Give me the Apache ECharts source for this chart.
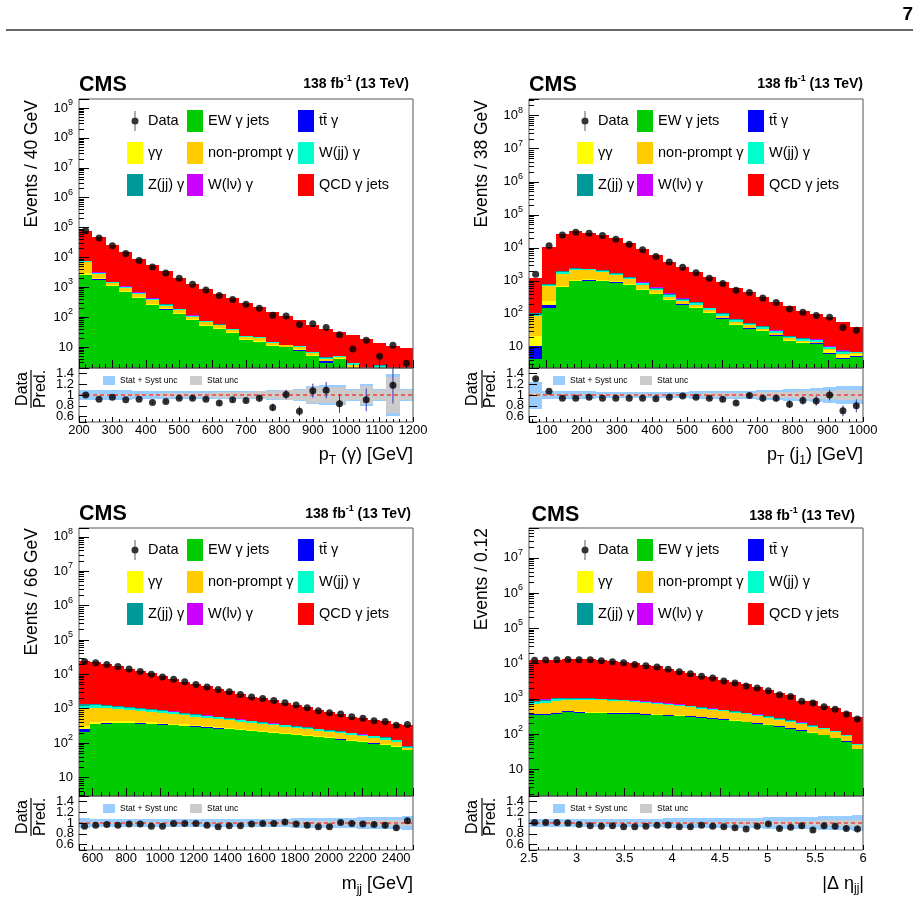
<!DOCTYPE html>
<html>
<head>
<meta charset="utf-8">
<title>CMS EW gamma + jets, control distributions</title>
<script src="https://cdn.jsdelivr.net/npm/echarts@6.0.0/dist/echarts.min.js"></script>
<style>
  html, body { margin: 0; padding: 0; background: #fff; }
  #chart { width: 920px; height: 908px; }
</style>
</head>
<body>
<div id="chart"></div>
<script>
// ---------- data ----------
// stack order, bottom to top
const procNames = ['EW γ jets', 'tt\u0304 γ', 'γγ', 'non-prompt γ', 'W(jj) γ', 'Z(jj) γ', 'W(lν) γ', 'QCD γ jets']
const procColors = ['#00cc00', '#0000ff', '#ffff00', '#ffcc00', '#00ffcc', '#009999', '#cc00ff', '#ff0000']

// pT(gamma): 25 bins, 200 - 1200 GeV
const ptgData = [78000, 44600, 24500, 13600, 7900, 4750, 3000, 2000, 1260, 810, 530, 390, 273, 200, 117, 109, 57, 60, 45, 26, 8.7, 17, 4.9, 11.5, 2.9]
const ptgEW = [2600, 1780, 1070, 680, 430, 250, 178, 126, 78, 51, 40, 29, 17.5, 15, 11, 10, 7.7, 5.1, 2.9, 4.0, 0.6, 0.3, 0.5, 0.3, 0.2]
const ptgTTG = [70, 55, 19, 16, 10, 7, 4, 3, 1.5, 1.1, 0.8, 0.5, 0.26, 0.28, 0.16, 0.08, 0.13, 0.07, 0.4, 0.04, 0.05, 0.01, 0.02, 0.01, 0.01]
const ptgGG = [450, 210, 72, 58, 38, 27, 15, 10, 6, 4, 2.9, 1.8, 1, 1.05, 0.6, 0.3, 0.5, 0.27, 0.2, 0.17, 0.6, 0.03, 0.1, 0.03, 0.03]
const ptgNP = [3800, 710, 240, 195, 125, 90, 48, 35, 18, 13, 9.5, 6, 3.2, 3.5, 2, 1, 1.6, 0.9, 0.6, 0.55, 1.2, 0.1, 0.2, 0.1, 0.1]
const ptgWJJ = [500, 260, 86, 70, 45, 32, 17, 12, 7, 5, 3.4, 2.2, 1.2, 1.26, 0.7, 0.36, 0.6, 0.32, 0.3, 0.2, 0.4, 0.04, 1.6, 0.04, 0.04]
const ptgZJJ = [180, 100, 34, 27, 17, 13, 7, 5, 2.6, 1.9, 1.3, 0.8, 0.45, 0.5, 0.28, 0.14, 0.23, 0.13, 0.1, 0.08, 0.1, 0.01, 0.05, 0.01, 0.01]
const ptgWLV = [100, 85, 29, 24, 15, 11, 6, 4, 2.2, 1.6, 1.1, 0.7, 0.4, 0.42, 0.24, 0.12, 0.2, 0.11, 0.1, 0.06, 0.05, 0.01, 0.03, 0.01, 0.01]
const ptgQCD = [70300, 45300, 23950, 13830, 7920, 5070, 3125, 1935, 1225, 802, 561, 389, 276, 191, 137, 96, 70, 48, 36, 26, 22, 18.5, 11.5, 10.5, 8.6]
const ptgRatio = [1.00, 0.92, 0.96, 0.91, 0.92, 0.86, 0.88, 0.94, 0.94, 0.92, 0.85, 0.91, 0.90, 0.94, 0.77, 1.01, 0.70, 1.08, 1.09, 0.84, null, 0.91, null, 1.18, null]
const ptgRatioErr = [0.01, 0.01, 0.01, 0.01, 0.01, 0.02, 0.02, 0.02, 0.03, 0.03, 0.04, 0.04, 0.05, 0.06, 0.07, 0.09, 0.09, 0.13, 0.15, 0.17, null, 0.21, null, 0.34, null]
const ptgUncTot = [0.1, 0.09, 0.09, 0.09, 0.08, 0.08, 0.08, 0.07, 0.07, 0.07, 0.07, 0.07, 0.08, 0.08, 0.09, 0.1, 0.11, 0.17, 0.18, 0.18, 0.12, 0.2, 0.12, 0.38, 0.12]
const ptgUncStat = [0.01, 0.01, 0.01, 0.02, 0.02, 0.02, 0.03, 0.03, 0.04, 0.04, 0.05, 0.05, 0.06, 0.07, 0.08, 0.09, 0.1, 0.14, 0.15, 0.15, 0.1, 0.17, 0.1, 0.34, 0.1]

// pT(j1): 25 bins, 50 - 1000 GeV
const ptjData = [1580, 11500, 24600, 29600, 27600, 23400, 18200, 12900, 8700, 5500, 3700, 2600, 1750, 1200, 830, 520, 445, 305, 220, 140, 112, 89, 79, 39, 32]
const ptjEW = [4.4, 155, 630, 980, 1020, 1000, 890, 740, 520, 390, 260, 190, 150, 107, 72, 46, 36, 30, 22, 15, 13, 12.6, 6.3, 4.2, 5]
const ptjTTG = [6, 35, 25, 25, 22, 20, 15, 12, 8, 6, 4, 3, 2, 1.5, 1, 0.7, 0.5, 0.4, 0.3, 0.2, 0.2, 0.2, 0.3, 0.4, 0.3]
const ptjGG = [10.5, 50, 60, 80, 80, 70, 60, 45, 30, 20, 14, 10, 7, 5, 3.5, 2.5, 2, 1.5, 1.2, 0.8, 0.7, 0.6, 1.2, 0.9, 0.8]
const ptjNP = [64, 450, 945, 1005, 968, 810, 515, 303, 182, 104, 52, 37, 31, 21.5, 12.5, 7.8, 7.5, 4.1, 3.5, 2, 1.1, 1.1, 0.8, 0.5, 0.4]
const ptjWJJ = [10, 80, 170, 210, 145, 110, 150, 128, 100, 64, 50, 32, 23, 12, 10, 9, 4.6, 4, 2.9, 2.3, 2.3, 1.5, 1.2, 1.2, 0.3]
const ptjZJJ = [9, 45, 90, 110, 75, 58, 80, 67, 50, 33, 25, 16, 12, 6, 5.5, 4.5, 2.4, 2.1, 1.5, 1.2, 1.2, 0.7, 0.4, 0.4, 0.1]
const ptjWLV = [4, 15, 30, 40, 30, 22, 30, 25, 20, 13, 10, 7, 5, 2, 2.5, 1.5, 1, 0.9, 0.6, 0.5, 0.5, 0.3, 0.3, 0.4, 0.1]
const ptjQCD = [1107, 9920, 24250, 29050, 26410, 22810, 17660, 12380, 8340, 5270, 3435, 2355, 1590, 1125, 793, 538, 396, 282, 202, 147, 105, 83, 68.5, 47, 33]
const ptjRatio = [1.30, 1.07, 0.94, 0.94, 0.96, 0.94, 0.94, 0.94, 0.94, 0.93, 0.96, 0.98, 0.96, 0.94, 0.92, 0.85, 0.99, 0.94, 0.94, 0.83, 0.90, 0.89, 1.00, 0.71, 0.80]
const ptjRatioErr = [0.03, 0.01, 0.01, 0.01, 0.01, 0.01, 0.01, 0.01, 0.01, 0.02, 0.02, 0.02, 0.03, 0.03, 0.04, 0.04, 0.05, 0.06, 0.06, 0.07, 0.08, 0.09, 0.1, 0.1, 0.12]
const ptjUncTot = [0.25, 0.08, 0.07, 0.07, 0.07, 0.06, 0.06, 0.06, 0.06, 0.06, 0.06, 0.06, 0.07, 0.07, 0.07, 0.08, 0.08, 0.09, 0.1, 0.11, 0.12, 0.13, 0.14, 0.16, 0.17]
const ptjUncStat = [0.04, 0.01, 0.01, 0.01, 0.01, 0.01, 0.01, 0.01, 0.01, 0.015, 0.02, 0.02, 0.025, 0.03, 0.035, 0.04, 0.045, 0.05, 0.055, 0.06, 0.07, 0.075, 0.08, 0.09, 0.1]

// m_jj: 30 bins, 520 - 2500 GeV
const mjjData = [23500, 21700, 19300, 17000, 14200, 12000, 10000, 8400, 7200, 6100, 5100, 4300, 3600, 3100, 2600, 2200, 1980, 1730, 1500, 1290, 1070, 880, 770, 700, 580, 525, 445, 425, 330, 350]
const mjjEW = [212, 354, 370, 378, 378, 370, 354, 346, 331, 316, 303, 283, 265, 253, 237, 221, 212, 198, 185, 173, 158, 148, 139, 127, 116, 106, 97, 87, 77, 62]
const mjjTTG = [50, 12, 12, 11, 11, 10, 10, 9, 9, 8, 8, 7, 7, 6, 6, 5, 5, 5, 4, 4, 4, 3, 3, 3, 3, 2, 2, 2, 2, 1.5]
const mjjGG = [60, 55, 52, 48, 43, 39, 36, 32, 28, 25, 22, 20, 18, 16, 14, 13, 11, 10, 9, 8, 7, 6, 5, 5, 4, 4, 3.5, 3, 2.5, 1]
const mjjNP = [688, 659, 623, 573, 514, 466, 428, 387, 340, 298, 259, 243, 216, 188, 166, 157, 134, 118, 105, 92, 84, 75, 65, 59, 54, 46, 42.5, 35, 29.5, 9.5]
const mjjWJJ = [225, 182, 159, 136, 126, 117, 96, 90, 82, 76, 70, 56, 52, 47, 43, 34, 31, 28, 26, 23, 22, 20, 18, 16, 15, 14, 13, 13, 10, 4]
const mjjZJJ = [105, 85, 74, 63, 59, 55, 45, 42, 38, 36, 32, 26, 24, 22, 20, 16, 15, 13, 12, 11, 10, 9, 8, 8, 7, 6, 6, 6, 4.5, 2]
const mjjWLV = [44, 37, 32, 27, 25, 23, 19, 18, 17, 15, 14, 12, 10, 9, 9, 7, 6, 6, 5, 5, 5, 4, 4, 3, 3, 3, 2, 2, 1.5, 1]
const mjjQCD = [23616, 21216, 18578, 16464, 13344, 11170, 9652, 8016, 6425, 5386, 4442, 3833, 3278, 2719, 2245, 1787, 1586, 1372, 1124, 1004, 825, 681, 586, 472, 384, 355, 293, 295, 236, 256]
const mjjRatio = [0.94, 0.96, 0.97, 0.96, 0.98, 0.98, 0.94, 0.94, 0.99, 0.99, 0.99, 0.96, 0.93, 0.95, 0.95, 0.98, 0.99, 0.99, 1.02, 0.98, 0.96, 0.93, 0.93, 1.01, 0.99, 0.98, 0.97, 0.96, 0.91, 1.04]
const mjjRatioErr = [0.01, 0.01, 0.01, 0.01, 0.01, 0.01, 0.01, 0.01, 0.01, 0.01, 0.01, 0.02, 0.02, 0.02, 0.02, 0.02, 0.02, 0.02, 0.03, 0.03, 0.03, 0.03, 0.03, 0.04, 0.04, 0.04, 0.04, 0.05, 0.05, 0.05]
const mjjUncTot = [0.085, 0.08, 0.08, 0.075, 0.075, 0.075, 0.07, 0.07, 0.07, 0.07, 0.07, 0.07, 0.07, 0.07, 0.075, 0.075, 0.08, 0.08, 0.08, 0.085, 0.09, 0.09, 0.095, 0.1, 0.1, 0.105, 0.11, 0.11, 0.12, 0.13]
const mjjUncStat = [0.01, 0.01, 0.01, 0.01, 0.01, 0.01, 0.01, 0.01, 0.01, 0.012, 0.014, 0.016, 0.018, 0.02, 0.022, 0.024, 0.026, 0.028, 0.03, 0.032, 0.034, 0.036, 0.038, 0.04, 0.042, 0.045, 0.048, 0.05, 0.055, 0.06]

// |Delta eta_jj|: 30 bins, 2.5 - 6
const detaData = [12300, 12500, 12800, 13100, 12800, 12800, 12000, 11200, 10500, 9450, 8660, 7940, 6820, 5850, 5140, 4320, 3870, 3180, 2790, 2300, 2020, 1690, 1300, 1150, 845, 757, 596, 500, 369, 266]
const detaEW = [346, 346, 369, 421, 403, 386, 386, 378, 378, 369, 353, 346, 331, 324, 310, 290, 272, 255, 234, 214, 196, 180, 161, 142, 124, 107, 92, 75, 61, 37]
const detaTTG = [12, 13, 15, 15, 15, 16, 15, 15, 14, 13, 12, 11, 10, 9, 8, 7, 6, 6, 5, 4, 4, 3, 3, 2, 2, 2, 1, 1, 1, 0.4]
const detaGG = [15, 17, 20, 20, 21, 21, 21, 20, 19, 18, 16, 15, 13, 12, 10, 9, 8, 7, 7, 6, 5, 4, 4, 3, 3, 2, 2, 1.5, 1, 0.5]
const detaNP = [337, 397, 477, 464, 481, 497, 479, 468, 433, 408, 376, 338, 310, 277, 242, 216, 194, 172, 157, 137, 119, 103, 87, 77, 63, 50, 41, 33.5, 25, 11.1]
const detaWJJ = [103, 113, 101, 91, 91, 78, 62, 61, 58, 56, 52, 48, 46, 43, 40, 37, 33, 30, 28, 25, 22, 20, 17, 15, 13, 11, 9, 8, 3.6, 2.4]
const detaZJJ = [48, 53, 47, 43, 43, 36, 29, 28, 27, 26, 24, 22, 22, 20, 18, 17, 15, 14, 13, 12, 10, 10, 8, 7, 6, 5, 4, 3.5, 1.7, 1.1]
const detaWLV = [20, 23, 21, 18, 18, 16, 13, 12, 12, 11, 11, 10, 9, 9, 8, 7, 7, 6, 5, 5, 5, 4, 4, 3, 3, 3, 2, 1.5, 0.7, 0.5]
const detaQCD = [11299, 11418, 11620, 12028, 12128, 12420, 11765, 10808, 10349, 9259, 8366, 7480, 6359, 5596, 4894, 3917, 3585, 2930, 2621, 2177, 1789, 1396, 1156, 1001, 676, 690, 476, 408, 316, 246]
const detaRatio = [1.01, 1.01, 1.01, 1.00, 0.97, 0.95, 0.94, 0.95, 0.93, 0.93, 0.94, 0.96, 0.96, 0.93, 0.93, 0.96, 0.94, 0.93, 0.91, 0.89, 0.94, 0.98, 0.90, 0.92, 0.95, 0.87, 0.95, 0.94, 0.90, 0.89]
const detaRatioErr = [0.01, 0.01, 0.01, 0.01, 0.01, 0.01, 0.01, 0.01, 0.01, 0.01, 0.01, 0.01, 0.01, 0.015, 0.015, 0.015, 0.02, 0.02, 0.02, 0.02, 0.025, 0.025, 0.03, 0.03, 0.035, 0.035, 0.04, 0.045, 0.05, 0.06]
const detaUncTot = [0.08, 0.08, 0.08, 0.08, 0.08, 0.08, 0.08, 0.08, 0.08, 0.08, 0.08, 0.08, 0.085, 0.085, 0.09, 0.09, 0.09, 0.095, 0.095, 0.1, 0.1, 0.105, 0.11, 0.11, 0.115, 0.12, 0.125, 0.13, 0.135, 0.14]
const detaUncStat = [0.01, 0.01, 0.01, 0.01, 0.01, 0.01, 0.01, 0.01, 0.01, 0.01, 0.012, 0.014, 0.016, 0.018, 0.02, 0.022, 0.024, 0.026, 0.028, 0.03, 0.032, 0.034, 0.036, 0.038, 0.04, 0.045, 0.05, 0.052, 0.055, 0.06]

const panels = [
  { xMin: 200, xMax: 1200, interval: 100, labelStep: 100, minor: 5, yMin: 2, yMax: 2e9,
    data: ptgData, procs: [ptgEW, ptgTTG, ptgGG, ptgNP, ptgWJJ, ptgZJJ, ptgWLV, ptgQCD],
    ratio: ptgRatio, ratioErr: ptgRatioErr, uncTot: ptgUncTot, uncStat: ptgUncStat,
    yTitle: 'Events / 40 GeV', xTitle: 'p{s|T} (γ) [GeV]' },
  { xMin: 50, xMax: 1000, interval: null, labelStep: 100, minor: 5, yMin: 2.3, yMax: 3.2e8,
    data: ptjData, procs: [ptjEW, ptjTTG, ptjGG, ptjNP, ptjWJJ, ptjZJJ, ptjWLV, ptjQCD],
    ratio: ptjRatio, ratioErr: ptjRatioErr, uncTot: ptjUncTot, uncStat: ptjUncStat,
    yTitle: 'Events / 38 GeV', xTitle: 'p{s|T} (j{s|1}) [GeV]' },
  { xMin: 520, xMax: 2500, interval: null, labelStep: 200, minor: 4, yMin: 2.9, yMax: 1.8e8,
    data: mjjData, procs: [mjjEW, mjjTTG, mjjGG, mjjNP, mjjWJJ, mjjZJJ, mjjWLV, mjjQCD],
    ratio: mjjRatio, ratioErr: mjjRatioErr, uncTot: mjjUncTot, uncStat: mjjUncStat,
    yTitle: 'Events / 66 GeV', xTitle: 'm{s|jj} [GeV]' },
  { xMin: 2.5, xMax: 6, interval: 0.5, labelStep: 0.5, minor: 5, yMin: 1.74, yMax: 7e7,
    data: detaData, procs: [detaEW, detaTTG, detaGG, detaNP, detaWJJ, detaZJJ, detaWLV, detaQCD],
    ratio: detaRatio, ratioErr: detaRatioErr, uncTot: detaUncTot, uncStat: detaUncStat,
    yTitle: 'Events / 0.12', xTitle: '|Δ η{s|jj}|' }
]

// ---------- layout (pixels) ----------
const layout = [
  { left: 79, top: 99, h: 269, rh: 54, cms: [79, 85], lumi: [409, 84.5], yt: [32, 100], xt: [413, 455.5], frac: [23, 41, 31, 389], leg: [127, 187, 298, 110], rleg: [103, 190, 376] },
  { left: 529, top: 99, h: 269, rh: 54, cms: [529, 85], lumi: [863, 84.5], yt: [482.5, 100], xt: [863, 455.5], frac: [473, 490.5, 482, 389], leg: [577, 637, 748, 110], rleg: [553, 640, 376] },
  { left: 79, top: 528, h: 268, rh: 54, cms: [79, 514.5], lumi: [411, 514.5], yt: [32, 528], xt: [413, 884.5], frac: [23, 41, 31, 817], leg: [127, 187, 298, 539], rleg: [103, 190, 804] },
  { left: 529, top: 528, h: 268, rh: 54, cms: [531.5, 515.5], lumi: [855, 516], yt: [482.5, 528], xt: [864, 884], frac: [473, 490.5, 482, 817], leg: [577, 637, 748, 539], rleg: [553, 640, 804] }
]
const WIDTH = 334
const FONT = '"Liberation Sans", Arial, Helvetica, sans-serif'
const legendCols = [
  ['Data', 'γγ', 'Z(jj) γ'],
  ['EW γ jets', 'non-prompt γ', 'W(lν) γ'],
  ['tt\u0304 γ', 'W(jj) γ', 'QCD γ jets'],
]
// dot with a thin error bar, in a 16x22 box
const dataIcon = 'path://M0,0M16,22M7.6,1L8.4,1L8.4,21L7.6,21ZM11.5,11A3.5,3.5,0,1,1,4.5,11A3.5,3.5,0,1,1,11.5,11Z'

function renderBlock(params, api) {
  const a = api.coord([api.value(0), api.value(3)])
  const b = api.coord([api.value(1), api.value(2)])
  const x0 = Math.round(a[0]), x1 = Math.round(b[0])
  const y0 = Math.round(a[1]), y1 = Math.round(b[1])
  return {
    type: 'rect',
    shape: { x: x0, y: y0, width: x1 - x0, height: y1 - y0 },
    style: { fill: api.visual('color') },
  }
}

function renderErr(params, api) {
  const a = api.coord([api.value(0), api.value(1)])
  const b = api.coord([api.value(0), api.value(2)])
  return {
    type: 'line',
    shape: { x1: a[0], y1: a[1], x2: b[0], y2: b[1] },
    style: { stroke: '#3535b5', lineWidth: 1 },
  }
}

function logLabel(v) {
  const n = Math.log10(v)
  const r = Math.round(n)
  if (Math.abs(n - r) > 1e-6 || r < 1) return ''
  if (r === 1) return '10'
  return '10{sup|' + r + '}'
}

function ratioLabel(v) {
  const k = Math.round(v * 10) / 10
  const ok = [0.6, 0.8, 1, 1.2, 1.4].some(t => Math.abs(t - v) < 1e-6)
  return ok ? String(k) : ''
}

const grids = [], xAxes = [], yAxes = [], series = [], legends = [], graphics = []
const tickColor = { color: '#000' }
const labelFont = { fontSize: 13, color: '#000', fontFamily: FONT }

panels.forEach((p, i) => {
  const L = layout[i]
  const mainIdx = 2 * i, ratIdx = 2 * i + 1
  const n = p.data.length
  const w = (p.xMax - p.xMin) / n
  const lo = k => p.xMin + k * w

  grids.push({ left: L.left, top: L.top, width: WIDTH, height: L.h, show: true, borderColor: '#555', borderWidth: 1, backgroundColor: 'transparent', z: 4 })
  grids.push({ left: L.left, top: L.top + L.h, width: WIDTH, height: L.rh, show: true, borderColor: '#555', borderWidth: 1, backgroundColor: 'transparent', z: 4 })

  const xBase = {
    type: 'value', min: p.xMin, max: p.xMax, splitNumber: 10, z: 5,
    axisLine: { show: false }, splitLine: { show: false },
  }
  if (p.interval) xBase.interval = p.interval
  xAxes.push(Object.assign({}, xBase, {
    gridIndex: mainIdx,
    axisLabel: { show: false },
    axisTick: { inside: true, length: 8, lineStyle: tickColor },
    minorTick: { show: true, splitNumber: p.minor, length: 4, lineStyle: tickColor },
  }))
  xAxes.push(Object.assign({}, xBase, {
    gridIndex: ratIdx,
    axisTick: { inside: true, length: 5, lineStyle: tickColor },
    minorTick: { show: true, splitNumber: p.minor, length: 3, lineStyle: tickColor },
    axisLabel: Object.assign({ margin: 2, formatter: v => {
      const k = v / p.labelStep
      return Math.abs(k - Math.round(k)) < 1e-6 ? String(+v.toFixed(2)) : ''
    } }, labelFont),
  }))

  yAxes.push({
    type: 'log', logBase: 10, gridIndex: mainIdx, min: p.yMin, max: p.yMax, z: 5,
    axisLine: { show: false }, splitLine: { show: false },
    axisTick: { inside: true, length: 10, lineStyle: tickColor },
    minorTick: { show: true, splitNumber: 9, length: 5, lineStyle: tickColor },
    axisLabel: Object.assign({
      margin: 6, lineHeight: 20, formatter: logLabel,
      rich: { sup: { fontSize: 9, lineHeight: 8, verticalAlign: 'top', color: '#000', fontFamily: FONT } },
    }, labelFont),
  })
  yAxes.push({
    type: 'value', gridIndex: ratIdx, min: 0.5, max: 1.5, splitNumber: 5, z: 5,
    axisLine: { show: false }, splitLine: { show: false },
    axisTick: { inside: true, length: 8, lineStyle: tickColor },
    axisLabel: Object.assign({ margin: 5, formatter: ratioLabel }, labelFont),
  })

  // stacked histogram
  const cum = new Array(n).fill(0)
  p.procs.forEach((vals, j) => {
    const items = []
    vals.forEach((v, k) => {
      const b = cum[k], t = cum[k] + v
      cum[k] = t
      if (t > p.yMin) items.push([lo(k), lo(k + 1), Math.max(b, p.yMin), t])
    })
    series.push({
      type: 'custom', name: procNames[j], coordinateSystem: 'cartesian2d',
      xAxisIndex: mainIdx, yAxisIndex: mainIdx, renderItem: renderBlock,
      itemStyle: { color: procColors[j] }, data: items,
      encode: { x: [0, 1], y: [2, 3] }, clip: true, silent: true, z: 2,
    })
  })
  series.push({
    type: 'scatter', name: 'Data', xAxisIndex: mainIdx, yAxisIndex: mainIdx,
    symbolSize: 7, itemStyle: { color: '#000' }, silent: true, z: 6,
    data: p.data.map((v, k) => [lo(k) + w / 2, v]),
  })

  // ratio panel
  series.push({
    type: 'custom', name: 'Stat + Syst unc', coordinateSystem: 'cartesian2d',
    xAxisIndex: ratIdx, yAxisIndex: ratIdx, renderItem: renderBlock,
    itemStyle: { color: '#99ccff' }, silent: true, clip: true, z: 2,
    encode: { x: [0, 1], y: [2, 3] },
    data: p.uncTot.map((s, k) => [lo(k), lo(k + 1), 1 - s, 1 + s]),
  })
  series.push({
    type: 'custom', name: 'Stat unc', coordinateSystem: 'cartesian2d',
    xAxisIndex: ratIdx, yAxisIndex: ratIdx, renderItem: renderBlock,
    itemStyle: { color: '#cbcbcb' }, silent: true, clip: true, z: 2,
    encode: { x: [0, 1], y: [2, 3] },
    data: p.uncStat.map((s, k) => [lo(k), lo(k + 1), 1 - s, 1 + s]),
  })
  series.push({
    type: 'line', name: 'unity', xAxisIndex: ratIdx, yAxisIndex: ratIdx,
    symbol: 'none', silent: true, z: 3,
    lineStyle: { color: '#ff0000', width: 1, type: [4, 3] },
    data: [[p.xMin, 1], [p.xMax, 1]],
  })
  const errItems = [], ptItems = []
  p.ratio.forEach((r, k) => {
    if (r == null) return
    const c = lo(k) + w / 2
    const e = p.ratioErr[k] || 0
    errItems.push([c, r - e, r + e])
    ptItems.push([c, r])
  })
  series.push({
    type: 'custom', name: 'ratio err', coordinateSystem: 'cartesian2d',
    xAxisIndex: ratIdx, yAxisIndex: ratIdx, renderItem: renderErr,
    silent: true, clip: true, z: 4, encode: { x: 0, y: [1, 2] }, data: errItems,
  })
  series.push({
    type: 'scatter', name: 'ratio', xAxisIndex: ratIdx, yAxisIndex: ratIdx,
    symbolSize: 7, itemStyle: { color: '#000' }, silent: true, z: 6, data: ptItems,
  })

  // legends: three columns of three
  legendCols.forEach((col, c) => {
    legends.push({
      orient: 'vertical', left: L.leg[c], top: L.leg[3], padding: 0,
      itemWidth: 16, itemHeight: 22, itemGap: 10, selectedMode: false, icon: 'rect',
      textStyle: { fontSize: 14.5, color: '#000', fontFamily: FONT },
      data: col.map(name => name === 'Data' ? { name, icon: dataIcon } : { name }),
    })
  })
  ;['Stat + Syst unc', 'Stat unc'].forEach((name, c) => {
    legends.push({
      left: L.rleg[c], top: L.rleg[2], padding: 0, itemWidth: 12, itemHeight: 9,
      selectedMode: false, icon: 'rect',
      textStyle: { fontSize: 8.5, color: '#000', fontFamily: FONT },
      data: [name],
    })
  })

  // titles
  graphics.push({
    type: 'text', x: L.cms[0], y: L.cms[1],
    style: { text: 'CMS', fontSize: 21.5, fontWeight: 'bold', fontFamily: FONT, fill: '#000', align: 'left', verticalAlign: 'middle' },
  })
  graphics.push({
    type: 'text', x: L.lumi[0], y: L.lumi[1],
    style: {
      text: '138 fb{sup|-1} (13 TeV)', fontSize: 14, fontWeight: 'bold', lineHeight: 20, fontFamily: FONT, fill: '#000',
      align: 'right', verticalAlign: 'middle',
      rich: { sup: { fontSize: 9, fontWeight: 'bold', lineHeight: 8, verticalAlign: 'top', fontFamily: FONT, fill: '#000' } },
    },
  })
  graphics.push({
    type: 'text', x: L.yt[0], y: L.yt[1], rotation: Math.PI / 2,
    style: { text: p.yTitle, fontSize: 17.5, fontFamily: FONT, fill: '#000', align: 'right', verticalAlign: 'middle' },
  })
  graphics.push({
    type: 'text', x: L.xt[0], y: L.xt[1],
    style: {
      text: p.xTitle, fontSize: 18, lineHeight: 22, fontFamily: FONT, fill: '#000', align: 'right', verticalAlign: 'middle',
      rich: { s: { fontSize: 12, lineHeight: 8, verticalAlign: 'bottom', fontFamily: FONT, fill: '#000' } },
    },
  })
  graphics.push({
    type: 'text', x: L.frac[0], y: L.frac[3], rotation: Math.PI / 2,
    style: { text: 'Data', fontSize: 16, fontFamily: FONT, fill: '#000', align: 'center', verticalAlign: 'middle' },
  })
  graphics.push({
    type: 'text', x: L.frac[1], y: L.frac[3], rotation: Math.PI / 2,
    style: { text: 'Pred.', fontSize: 16, fontFamily: FONT, fill: '#000', align: 'center', verticalAlign: 'middle' },
  })
  graphics.push({
    type: 'line', shape: { x1: L.frac[2], y1: L.frac[3] - 19, x2: L.frac[2], y2: L.frac[3] + 19 },
    style: { stroke: '#000', lineWidth: 1.2 },
  })
})

// page header
graphics.push({
  type: 'text', x: 913, y: 15,
  style: { text: '7', fontSize: 19, fontWeight: 'bold', fontFamily: FONT, fill: '#000', align: 'right', verticalAlign: 'middle' },
})
graphics.push({
  type: 'line', shape: { x1: 6, y1: 30, x2: 913, y2: 30 },
  style: { stroke: '#333', lineWidth: 1.5 },
})

const chart = echarts.init(document.getElementById('chart'), null, { renderer: 'canvas' })
chart.setOption({
  animation: false,
  backgroundColor: '#fff',
  textStyle: { fontFamily: FONT },
  grid: grids,
  xAxis: xAxes,
  yAxis: yAxes,
  legend: legends,
  graphic: { elements: graphics },
  series: series,
})
</script>
</body>
</html>
